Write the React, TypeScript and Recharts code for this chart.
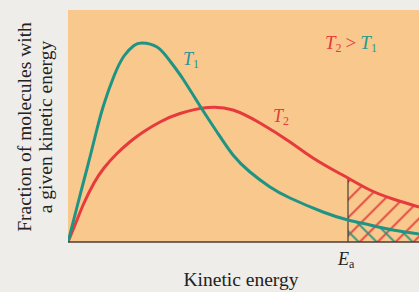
import React from "react";
import {
  ComposedChart,
  Line,
  Area,
  XAxis,
  YAxis,
  CartesianGrid,
  ReferenceLine,
} from "recharts";

// Kinetic energy (arbitrary units) and fraction of molecules for each temperature
const t1Energy = [0, 9, 16, 23, 29, 36, 46, 56, 66, 74, 89, 102, 115, 132, 149, 165, 182, 202, 222, 255, 280, 302, 325, 351];
const t1Fraction = [0, 35, 62, 89, 113, 138, 166, 186, 196.5, 199, 195, 181, 163, 136, 110, 87, 70, 55, 44, 30, 22, 17, 12, 8];
const t2Energy = [0, 9, 16, 26, 36, 49, 63, 76, 92, 112, 140, 165, 192, 222, 245, 269, 280, 302, 325, 351];
const t2Fraction = [0, 22, 39, 59, 74, 88.5, 101, 110.5, 120, 128.5, 134.5, 132, 119, 100, 84, 70, 64, 52, 43, 35];
const activationEnergy = 280;
const xDomain = [0, 351];
const yDomain = [0, 232];

const t1Data = t1Energy.map((x, i) => ({ x, y: t1Fraction[i] }));
const t2Data = t2Energy.map((x, i) => ({ x, y: t2Fraction[i] }));
const t1Hatch = t1Data.filter((d) => d.x >= activationEnergy);
const t2Hatch = t2Data.filter((d) => d.x >= activationEnergy);
const t2AtEa = t2Fraction[t2Energy.indexOf(activationEnergy)];

const RED = "#e63a3c";
const TEAL = "#1f9484";
const AXIS = "#4d3d35";
const FONT = "'Liberation Serif', 'DejaVu Serif', serif";

const EaTick = (props: any) => {
  const { x, y } = props;
  return (
    <text x={x - 10} y={y + 15} fill="#222" fontFamily={FONT} fontSize={18}>
      <tspan fontStyle="italic">E</tspan>
      <tspan fontSize={12} dy={3}>a</tspan>
    </text>
  );
};

export default function App() {
  return (
    <div
      style={{
        position: "absolute",
        left: 0,
        top: 0,
        width: 419,
        height: 292,
        background: "#eeede9",
      }}
    >
      <ComposedChart
        width={419}
        height={292}
        margin={{ top: 10, right: 0, left: 68, bottom: 20 }}
      >
        <defs>
          <pattern
            id="redHatch"
            width="12.7"
            height="12.7"
            patternUnits="userSpaceOnUse"
            patternTransform="rotate(45)"
          >
            <line x1="6.35" y1="0" x2="6.35" y2="12.7" stroke={RED} strokeWidth={1.8} />
          </pattern>
          <pattern
            id="tealHatch"
            width="12.7"
            height="12.7"
            patternUnits="userSpaceOnUse"
            patternTransform="rotate(-45)"
          >
            <line x1="6.35" y1="0" x2="6.35" y2="12.7" stroke={TEAL} strokeWidth={1.8} />
          </pattern>
        </defs>
        <CartesianGrid horizontal={false} vertical={false} fill="#f8c88c" />
        <XAxis
          type="number"
          dataKey="x"
          domain={xDomain}
          ticks={[activationEnergy]}
          tick={<EaTick />}
          tickLine={false}
          height={30}
          axisLine={{ stroke: AXIS, strokeWidth: 1.5 }}
          allowDataOverflow
        />
        <YAxis
          type="number"
          domain={yDomain}
          width={0}
          tick={false}
          tickLine={false}
          axisLine={{ stroke: AXIS, strokeWidth: 1.5 }}
          allowDataOverflow
        />
        <Area
          data={t2Hatch}
          dataKey="y"
          type="natural"
          stroke="none"
          fill="url(#redHatch)"
          fillOpacity={1}
          isAnimationActive={false}
        />
        <Area
          data={t1Hatch}
          dataKey="y"
          type="natural"
          stroke="none"
          fill="url(#tealHatch)"
          fillOpacity={1}
          isAnimationActive={false}
        />
        <ReferenceLine
          segment={[
            { x: activationEnergy, y: 0 },
            { x: activationEnergy, y: t2AtEa },
          ]}
          stroke="#222"
          strokeWidth={1}
        />
        <Line
          data={t2Data}
          dataKey="y"
          type="natural"
          stroke={RED}
          strokeWidth={3}
          dot={false}
          isAnimationActive={false}
        />
        <Line
          data={t1Data}
          dataKey="y"
          type="natural"
          stroke={TEAL}
          strokeWidth={3}
          dot={false}
          isAnimationActive={false}
        />
        <text x={183} y={65} fontFamily={FONT} fontSize={18} fill="#2a8f9e">
          <tspan fontStyle="italic">T</tspan>
          <tspan fontSize={12} dy={3}>1</tspan>
        </text>
        <text x={273} y={122} fontFamily={FONT} fontSize={18} fill={RED}>
          <tspan fontStyle="italic">T</tspan>
          <tspan fontSize={12} dy={3}>2</tspan>
        </text>
        <text x={325} y={49} fontFamily={FONT} fontSize={19}>
          <tspan fontStyle="italic" fill={RED}>T</tspan>
          <tspan fontSize={12} dy={3} fill={RED}>2</tspan>
          <tspan dy={-3} dx={4} fill={RED}>&gt;</tspan>
          <tspan dx={4} fontStyle="italic" fill="#2a9a8a">T</tspan>
          <tspan fontSize={12} dy={3} fill="#2a9a8a">1</tspan>
        </text>
        <text
          x={31}
          y={127}
          transform="rotate(-90 31 127)"
          textAnchor="middle"
          fontFamily={FONT}
          fontSize={19.5}
          fill="#222"
        >
          Fraction of molecules with
        </text>
        <text
          x={52}
          y={127}
          transform="rotate(-90 52 127)"
          textAnchor="middle"
          fontFamily={FONT}
          fontSize={19.5}
          fill="#222"
        >
          a given kinetic energy
        </text>
        <text
          x={241}
          y={286}
          textAnchor="middle"
          fontFamily={FONT}
          fontSize={19.5}
          fill="#222"
        >
          Kinetic energy
        </text>
      </ComposedChart>
    </div>
  );
}
